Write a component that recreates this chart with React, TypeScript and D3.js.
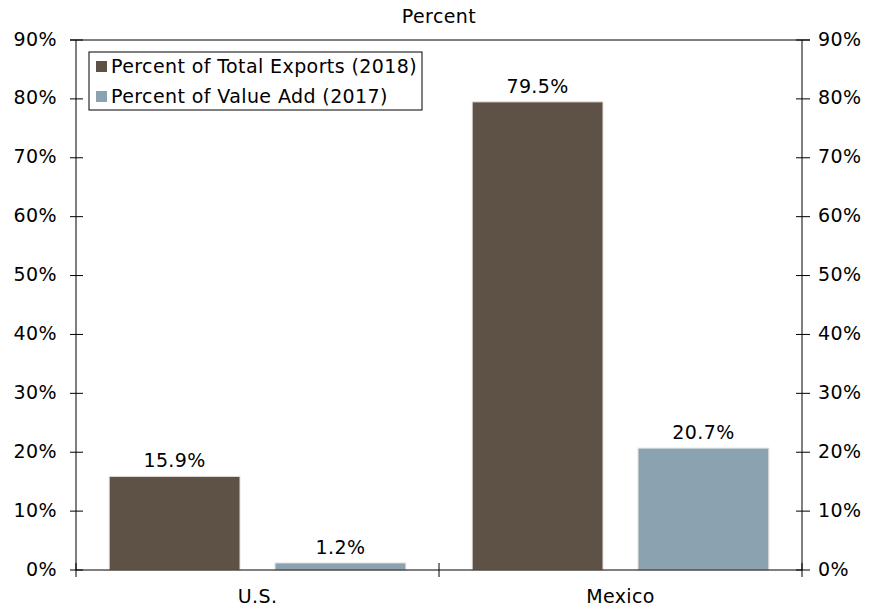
import React from "react";
import * as d3 from "d3";

const categories = ["U.S.", "Mexico"];
const seriesNames = ["Percent of Total Exports (2018)", "Percent of Value Add (2017)"];
const exportsShare = [15.9, 79.5];
const valueAddShare = [1.2, 20.7];
const yTicks = [0, 10, 20, 30, 40, 50, 60, 70, 80, 90];
const colors = ["#5E5246", "#8BA3B0"];

const W = 883, H = 605;
const left = 76, right = 802, top = 40, bottom = 570;
const font = "'DejaVu Sans', Verdana, sans-serif";
const fs = 19;
const ls = 0.4;

export default function App() {
  const x = d3.scaleBand<string>().domain(categories).range([left, right]).paddingInner(0).paddingOuter(0);
  const inner = d3.scaleBand<string>().domain(["0", "1"]).range([0, x.bandwidth()]).paddingInner(0.211).paddingOuter(0.2);
  const y = d3.scaleLinear().domain([0, 90]).range([bottom, top]);
  const series = [exportsShare, valueAddShare];

  return (
    <svg width={W} height={H} style={{ position: "absolute", left: 0, top: 0, background: "#fff" }} fontFamily={font} letterSpacing={ls}>
      <text x={439} y={17} textAnchor="middle" dominantBaseline="middle" fontSize={fs}>Percent</text>
      {/* frame */}
      <line x1={left} x2={left} y1={top} y2={bottom} stroke="#000" />
      <line x1={right} x2={right} y1={top} y2={bottom} stroke="#000" />
      <line x1={left - 6} x2={right + 8} y1={top} y2={top} stroke="#000" />
      {/* bars */}
      {series.map((vals, si) =>
        categories.map((c, ci) => {
          const bx = (x(c) ?? 0) + (inner(String(si)) ?? 0);
          const bw = inner.bandwidth();
          const v = vals[ci];
          return (
            <g key={`${si}-${ci}`}>
              <rect x={bx} y={y(v)} width={bw} height={y(0) - y(v)} fill={colors[si]} stroke="#e8e4df" strokeWidth={1} />
              <text x={bx + bw / 2} y={y(v) - 9} textAnchor="middle" fontSize={fs}>{v.toFixed(1)}%</text>
            </g>
          );
        })
      )}
      {/* y ticks */}
      {yTicks.map((t) => (
        <g key={t}>
          <line x1={left - 6} x2={left + 7} y1={y(t)} y2={y(t)} stroke="#000" />
          <line x1={right - 6} x2={right + 8} y1={y(t)} y2={y(t)} stroke="#000" />
          <text x={left - 19} y={y(t)} textAnchor="end" dominantBaseline="middle" fontSize={fs}>{t}%</text>
          <text x={right + 16} y={y(t)} textAnchor="start" dominantBaseline="middle" fontSize={fs}>{t}%</text>
        </g>
      ))}
      {/* x axis */}
      <line x1={left} x2={right} y1={bottom} y2={bottom} stroke="#000" />
      {[left, (x("Mexico") ?? 0), right].map((px, i) => (
        <line key={i} x1={px} x2={px} y1={bottom - 7} y2={bottom + 7} stroke="#000" />
      ))}
      {categories.map((c) => (
        <text key={c} x={(x(c) ?? 0) + x.bandwidth() / 2} y={597} textAnchor="middle" dominantBaseline="middle" fontSize={fs}>{c}</text>
      ))}
      {/* legend */}
      <rect x={89} y={52} width={333} height={58} fill="#fff" stroke="#000" />
      {seriesNames.map((n, i) => (
        <g key={n}>
          <rect x={96} y={61 + i * 30} width={11} height={11} fill={colors[i]} />
          <text x={111} y={67 + i * 30} dominantBaseline="middle" fontSize={fs}>{n}</text>
        </g>
      ))}
    </svg>
  );
}
